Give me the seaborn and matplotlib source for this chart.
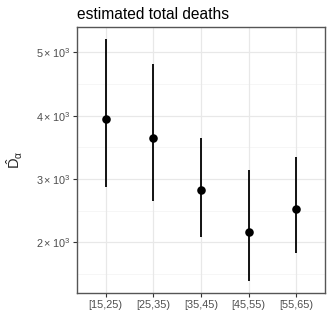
import matplotlib
matplotlib.use("Agg")
import matplotlib.pyplot as plt
import seaborn as sns
import pandas as pd
import numpy as np

groups = ["[15,25)", "[25,35)", "[35,45)", "[45,55)", "[55,65)"]
estimate = [3950, 3650, 2830, 2160, 2530]
lower = [2880, 2660, 2080, 1390, 1830]
upper = [5210, 4820, 3640, 3140, 3340]
yticks = [2000, 3000, 4000, 5000]
ytick_labels = [r"$2\times10^3$", r"$3\times10^3$", r"$4\times10^3$", r"$5\times10^3$"]

df = pd.DataFrame({"group": groups, "est": estimate, "lo": lower, "hi": upper})

sns.set_style("white")
plt.rcParams["font.family"] = ["Liberation Sans", "DejaVu Sans"]
plt.rcParams["mathtext.fontset"] = "custom"
plt.rcParams["mathtext.rm"] = "Liberation Sans"
plt.rcParams["mathtext.it"] = "Liberation Sans"
plt.rcParams["mathtext.bf"] = "Liberation Sans:bold"

fig = plt.figure(figsize=(3.32, 3.32), dpi=100)
ax = fig.add_axes([77/332, 1-293/332, (325-77)/332, (293-27)/332])

xpos = np.arange(len(groups))
ax.vlines(xpos, df["lo"], df["hi"], color="black", lw=1.3, zorder=3)
sns.scatterplot(x=xpos, y=df["est"], ax=ax, color="black", s=38, edgecolor="black", linewidth=0, zorder=4)

rng = max(upper) - min(lower)
ax.set_ylim(min(lower) - 0.05*rng, max(upper) + 0.05*rng)
ax.set_xlim(-0.6, len(groups) - 0.4)
ax.set_xticks(xpos)
ax.set_xticklabels(groups)
ax.set_yticks(yticks)
ax.set_yticklabels(ytick_labels)

ax.grid(True, color="#e8e8e8", lw=0.9)
minor = [(a+b)/2 for a, b in zip(yticks[:-1], yticks[1:])] + [yticks[0]-500]
for m in minor:
    ax.axhline(m, color="#f3f3f3", lw=0.5, zorder=0)
ax.set_axisbelow(True)
for s in ax.spines.values():
    s.set_color("#555555")
    s.set_linewidth(1.0)
ax.tick_params(axis="both", length=3, width=0.8, color="#333333", labelcolor="#4d4d4d", labelsize=7.8, pad=2)
ax.tick_params(axis="x", bottom=True)
ax.tick_params(axis="y", left=True)

ax.set_xlabel("")
ax.set_ylabel(r"$\hat{\mathrm{D}}_{\mathrm{α}}$", fontsize=10.5, labelpad=8)
ax.set_title("estimated total deaths", loc="left", fontsize=11.2, pad=6, color="black")

fig.savefig("out.png", dpi=100)
